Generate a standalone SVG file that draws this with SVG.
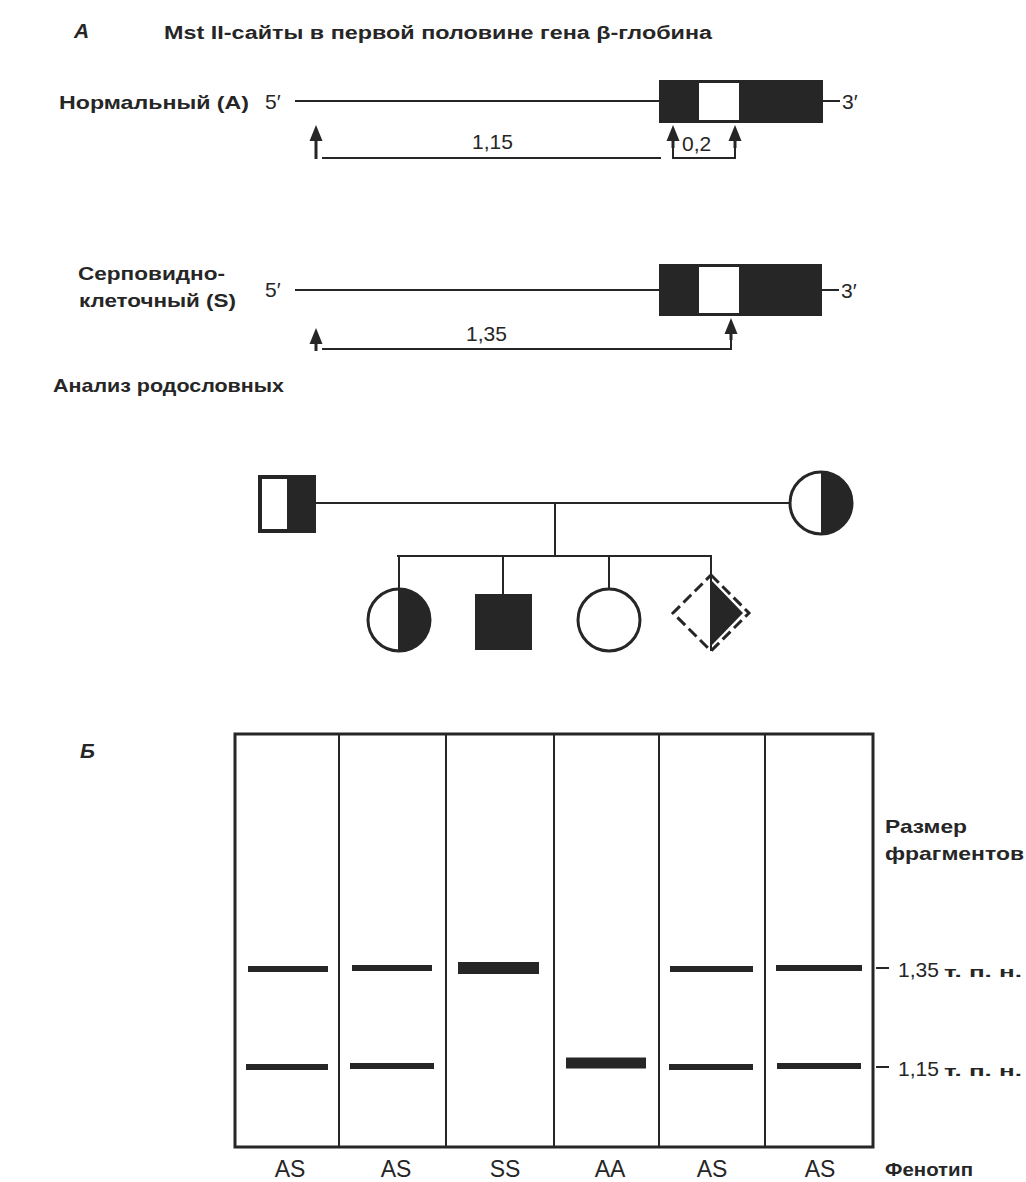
<svg xmlns="http://www.w3.org/2000/svg" width="1026" height="1182" viewBox="0 0 1026 1182">
<style>
.t{font-family:"Liberation Sans","DejaVu Sans",sans-serif;fill:#262626}
.b{font-weight:bold}
.ln{stroke:#262626;stroke-width:2;fill:none}
.thk{stroke:#262626;stroke-width:3;fill:none}
.blk{fill:#262626}
.band{stroke:#262626;stroke-linecap:butt}
</style>
<defs>
<path id="ah" d="M0,0 L6.5,16 L-6.5,16 Z" fill="#262626"/>
</defs>
<rect width="1026" height="1182" fill="#fff"/>

<!-- Part A header -->
<g id="header">
<text class="t b" x="74" y="38" font-size="21" font-style="italic">А</text>
<text class="t b" x="164" y="39" font-size="18" textLength="548" lengthAdjust="spacingAndGlyphs">Mst II-сайты в первой половине гена β-глобина</text>
</g>

<!-- Normal allele -->
<g id="normal">
<text class="t b" x="59" y="109" font-size="19" textLength="190" lengthAdjust="spacingAndGlyphs">Нормальный (А)</text>
<text class="t" x="265" y="109" font-size="21">5′</text>
<line class="ln" x1="295" y1="101" x2="659" y2="101"/>
<rect x="659" y="80" width="164" height="43" class="blk"/>
<rect x="699" y="83" width="40" height="37" fill="#fff"/>
<line class="ln" x1="823" y1="101" x2="840" y2="101"/>
<text class="t" x="842" y="109" font-size="21">3′</text>
<text class="t" x="472" y="149" font-size="21">1,15</text>
<text class="t" x="682" y="151" font-size="21">0,2</text>
</g>

<!-- Sickle allele -->
<g id="sickle">
<text class="t b" x="78" y="280" font-size="19" textLength="147" lengthAdjust="spacingAndGlyphs">Серповидно-</text>
<text class="t b" x="79" y="307" font-size="19" textLength="157" lengthAdjust="spacingAndGlyphs">клеточный (S)</text>
<text class="t" x="265" y="297" font-size="21">5′</text>
<line class="ln" x1="295" y1="290" x2="659" y2="290"/>
<rect x="659" y="264" width="163" height="52" class="blk"/>
<rect x="699" y="267" width="40" height="46" fill="#fff"/>
<line class="ln" x1="822" y1="290" x2="839" y2="290"/>
<text class="t" x="841" y="298" font-size="21">3′</text>
<text class="t" x="466" y="341" font-size="21">1,35</text>
</g>

<g id="connectors">
<!-- normal: arrows and brackets -->
<line class="thk" x1="316" y1="159" x2="316" y2="136"/>
<use href="#ah" x="316" y="125"/>
<line class="ln" x1="322" y1="158" x2="661" y2="158"/>
<polyline class="ln" points="673,136 673,158 735,158 735,136"/>
<line class="thk" x1="673" y1="148" x2="673" y2="136"/>
<line class="thk" x1="735" y1="148" x2="735" y2="136"/>
<use href="#ah" x="673" y="125"/>
<use href="#ah" x="735" y="125"/>
<!-- sickle -->
<line class="thk" x1="316" y1="351" x2="316" y2="339"/>
<use href="#ah" x="316" y="328"/>
<polyline class="ln" points="322,349 731,349 731,329"/>
<line class="thk" x1="731" y1="340" x2="731" y2="329"/>
<use href="#ah" x="731" y="318"/>
<!-- pedigree lines -->
<line class="ln" x1="316" y1="503" x2="790" y2="503"/>
<line class="ln" x1="555" y1="503" x2="555" y2="556"/>
<line class="ln" x1="397" y1="556" x2="712" y2="556"/>
<line class="ln" x1="399" y1="556" x2="399" y2="589"/>
<line class="ln" x1="503" y1="556" x2="503" y2="594"/>
<line class="ln" x1="609" y1="556" x2="609" y2="589"/>
<line class="ln" x1="711" y1="556" x2="711" y2="575"/>
</g>

<text class="t b" x="53" y="392" font-size="19" textLength="231" lengthAdjust="spacingAndGlyphs">Анализ родословных</text>

<!-- Pedigree -->
<g id="father">
<rect x="260" y="477" width="54" height="54" fill="#fff" stroke="#262626" stroke-width="4"/>
<rect x="287" y="477" width="27" height="54" class="blk"/>
</g>
<g id="mother">
<path d="M821,472 A31,31 0 0 1 821,534 Z" class="blk"/>
<circle cx="821" cy="503" r="31" fill="none" stroke="#262626" stroke-width="3"/>
</g>
<g id="child1">
<path d="M399,589 A31,31 0 0 1 399,651 Z" class="blk"/>
<circle cx="399" cy="620" r="31" fill="none" stroke="#262626" stroke-width="3"/>
<line class="ln" x1="399" y1="589" x2="399" y2="651"/>
</g>
<g id="child2">
<rect x="475" y="594" width="57" height="56" class="blk"/>
</g>
<g id="child3">
<circle cx="609" cy="620" r="31" fill="#fff" stroke="#262626" stroke-width="3"/>
</g>
<g id="child4">
<path d="M711,580 L743,613 L711,646 Z" class="blk"/>
<path d="M711,575 L749,613 L711,651 L673,613 Z" fill="none" stroke="#262626" stroke-width="3" stroke-dasharray="11,5"/>
<line class="ln" x1="711" y1="575" x2="711" y2="651"/>
</g>

<!-- Part B -->
<text class="t b" x="80" y="758" font-size="21" font-style="italic">Б</text>

<g id="gel">
<rect x="235" y="734" width="638" height="413" fill="none" stroke="#262626" stroke-width="3"/>
<line class="ln" x1="339" y1="734" x2="339" y2="1147"/>
<line class="ln" x1="446" y1="734" x2="446" y2="1147"/>
<line class="ln" x1="554" y1="734" x2="554" y2="1147"/>
<line class="ln" x1="659" y1="734" x2="659" y2="1147"/>
<line class="ln" x1="765" y1="734" x2="765" y2="1147"/>
</g>
<g id="bands">
<line class="band" x1="248" y1="969" x2="328" y2="969" stroke-width="6"/>
<line class="band" x1="246" y1="1067" x2="328" y2="1067" stroke-width="6"/>
<line class="band" x1="352" y1="968" x2="432" y2="968" stroke-width="6"/>
<line class="band" x1="350" y1="1066" x2="434" y2="1066" stroke-width="6"/>
<line class="band" x1="458" y1="968" x2="539" y2="968" stroke-width="12"/>
<line class="band" x1="566" y1="1063" x2="646" y2="1063" stroke-width="11"/>
<line class="band" x1="670" y1="969" x2="753" y2="969" stroke-width="6"/>
<line class="band" x1="669" y1="1067" x2="753" y2="1067" stroke-width="6"/>
<line class="band" x1="776" y1="968" x2="862" y2="968" stroke-width="6"/>
<line class="band" x1="777" y1="1066" x2="861" y2="1066" stroke-width="6"/>
</g>
<g id="scale">
<text class="t b" x="885" y="833" font-size="19" textLength="82" lengthAdjust="spacingAndGlyphs">Размер</text>
<text class="t b" x="885" y="860" font-size="19" textLength="139" lengthAdjust="spacingAndGlyphs">фрагментов</text>
<line class="ln" x1="876" y1="968" x2="889" y2="968"/>
<line class="ln" x1="876" y1="1067" x2="889" y2="1067"/>
<text class="t" x="898" y="977" font-size="21">1,35</text>
<text class="t b" x="944" y="977" font-size="15" textLength="78" lengthAdjust="spacingAndGlyphs">т. п. н.</text>
<text class="t" x="898" y="1076" font-size="21">1,15</text>
<text class="t b" x="944" y="1076" font-size="15" textLength="78" lengthAdjust="spacingAndGlyphs">т. п. н.</text>
</g>
<g id="labels" font-size="23">
<text class="t" x="290" y="1177" text-anchor="middle">AS</text>
<text class="t" x="396" y="1177" text-anchor="middle">AS</text>
<text class="t" x="505" y="1177" text-anchor="middle">SS</text>
<text class="t" x="610" y="1177" text-anchor="middle">AA</text>
<text class="t" x="712" y="1177" text-anchor="middle">AS</text>
<text class="t" x="820" y="1177" text-anchor="middle">AS</text>
<text class="t b" x="885" y="1176" font-size="18" textLength="88" lengthAdjust="spacingAndGlyphs">Фенотип</text>
</g>
</svg>
